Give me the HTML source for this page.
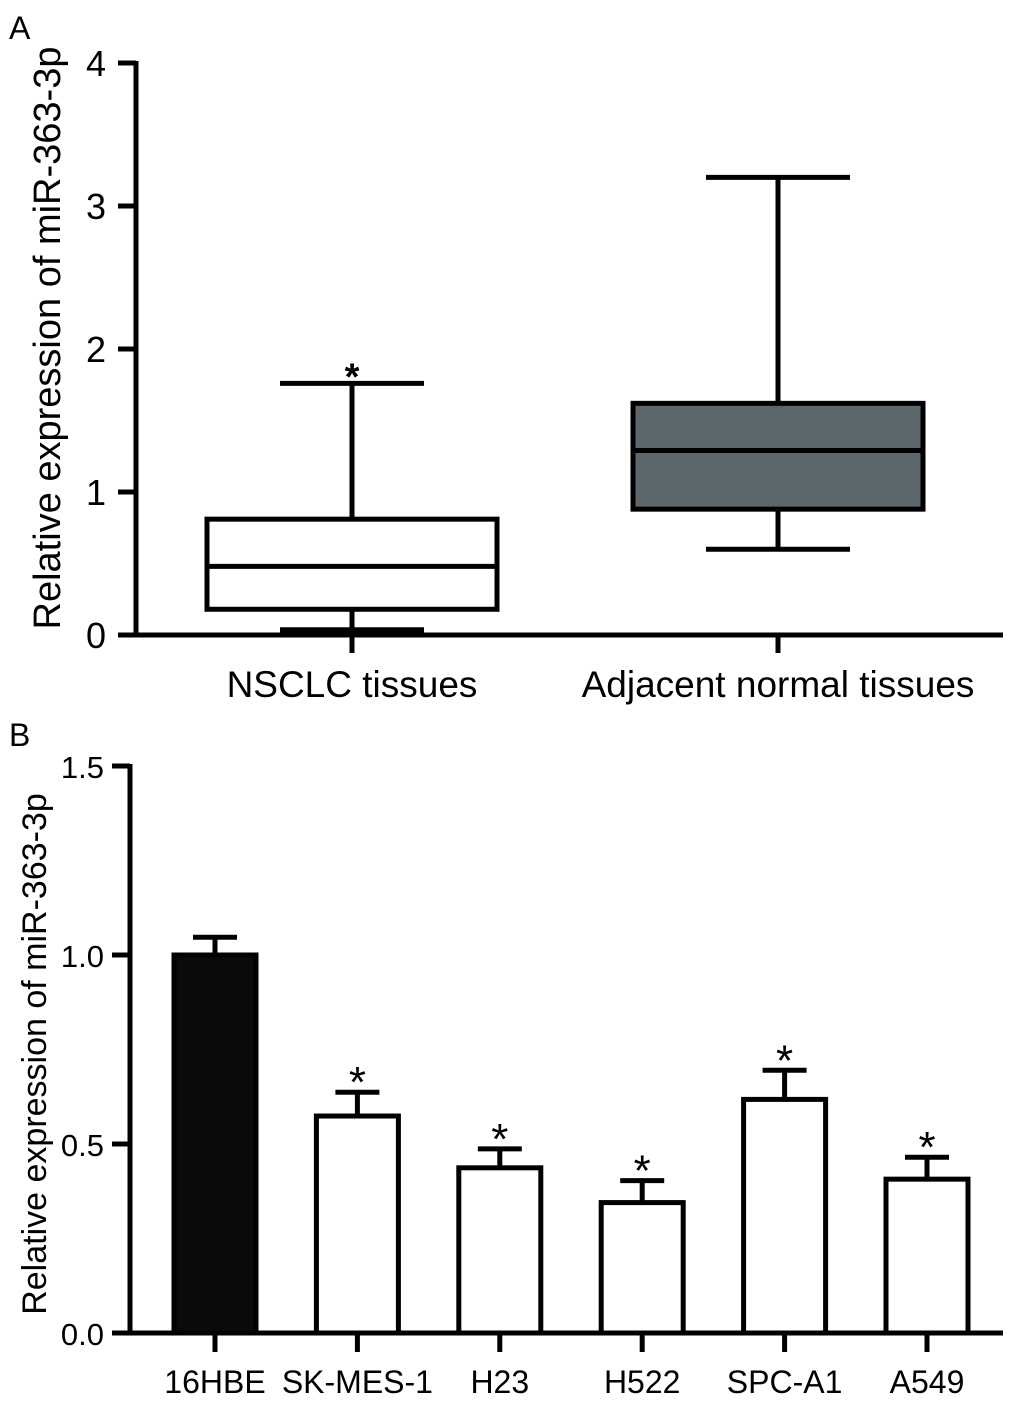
<!DOCTYPE html>
<html><head><meta charset="utf-8"><style>
body{margin:0;background:#fff;}
svg{display:block;font-family:"Liberation Sans",Arial,sans-serif;}
</style></head><body>
<svg id="c" width="1013" height="1404" viewBox="0 0 1013 1404" xmlns="http://www.w3.org/2000/svg"></svg>
<script>
// Panel A data
const catsA = ["NSCLC tissues", "Adjacent normal tissues"];
const minA = [0.03, 0.6];
const q1A = [0.18, 0.88];
const medA = [0.48, 1.29];
const q3A = [0.81, 1.62];
const maxA = [1.76, 3.2];
const ticksA = [0, 1, 2, 3, 4];
// Panel B data
const catsB = ["16HBE", "SK-MES-1", "H23", "H522", "SPC-A1", "A549"];
const valsB = [1.0, 0.574, 0.437, 0.345, 0.618, 0.407];
const errB = [0.047, 0.063, 0.05, 0.058, 0.077, 0.058];
const ticksB = ["0.0", "0.5", "1.0", "1.5"];

const NS = "http://www.w3.org/2000/svg";
const svg = document.getElementById("c");
function mk(tag, attrs, parent) {
  const e = document.createElementNS(NS, tag);
  for (const k in attrs) e.setAttribute(k, attrs[k]);
  (parent || svg).appendChild(e);
  return e;
}
function txt(s, attrs) { const t = mk("text", attrs); t.textContent = s; return t; }

// ---- Panel A ----
const yA = v => 635 - v * 143;
const xA = i => 352 + i * 426;
let t = txt("A", {x: 9, y: 39, "font-size": 32});


let l = mk("line", {x1: 136, y1: 61, x2: 136, y2: 637, stroke: "#000", "stroke-width": 5});


l = mk("line", {x1: 118, y1: 635, x2: 1003, y2: 635, stroke: "#000", "stroke-width": 5});


ticksA.forEach(v => {
  const tk = mk("line", {x1: 118, y1: yA(v), x2: 136, y2: yA(v), stroke: "#000", "stroke-width": 5});
  
  
  const lb = txt(String(v), {x: 106, y: yA(v) + 13, "font-size": 36, "text-anchor": "end"});
  
  
});
t = txt("Relative expression of miR-363-3p", {x: 0, y: 0, "font-size": 38, "text-anchor": "middle", transform: "translate(60,338) rotate(-90)"});


catsA.forEach((c, i) => {
  const cx = xA(i);
  const g = mk("g", {});
  
  
  mk("line", {x1: cx, y1: yA(maxA[i]), x2: cx, y2: yA(minA[i]), stroke: "#000", "stroke-width": 5}, g);
  mk("line", {x1: cx - 72, y1: yA(maxA[i]), x2: cx + 72, y2: yA(maxA[i]), stroke: "#000", "stroke-width": 5}, g);
  mk("line", {x1: cx - 72, y1: yA(minA[i]), x2: cx + 72, y2: yA(minA[i]), stroke: "#000", "stroke-width": i === 0 ? 7 : 5}, g);
  mk("rect", {x: cx - 145, y: yA(q3A[i]), width: 290, height: yA(q1A[i]) - yA(q3A[i]), fill: i === 0 ? "#fff" : "#5c676c", stroke: "#000", "stroke-width": 5}, g);
  mk("line", {x1: cx - 145, y1: yA(medA[i]), x2: cx + 145, y2: yA(medA[i]), stroke: "#000", "stroke-width": 5}, g);
  const tk = mk("line", {x1: cx, y1: 635, x2: cx, y2: 653, stroke: "#000", "stroke-width": 5});
  
  
  const lb = txt(c, {x: cx, y: 697, "font-size": 37, "text-anchor": "middle"});
  
  
});
t = txt("*", {x: xA(0), y: yA(maxA[0]) + 6, "font-size": 38, "font-weight": "bold", "text-anchor": "middle"});



// ---- Panel B ----
const yB = v => 1333 - v * 378;
const xB = i => 215 + i * 142.4;
t = txt("B", {x: 9, y: 746, "font-size": 32});


l = mk("line", {x1: 130, y1: 764, x2: 130, y2: 1335, stroke: "#000", "stroke-width": 5});


l = mk("line", {x1: 112, y1: 1333, x2: 1003, y2: 1333, stroke: "#000", "stroke-width": 5});


ticksB.forEach(s => {
  const v = parseFloat(s);
  const tk = mk("line", {x1: 112, y1: yB(v), x2: 130, y2: yB(v), stroke: "#000", "stroke-width": 5});
  
  
  const lb = txt(s, {x: 104, y: yB(v) + 12, "font-size": 31, "text-anchor": "end"});
  
  
});
t = txt("Relative expression of miR-363-3p", {x: 0, y: 0, "font-size": 34, "text-anchor": "middle", transform: "translate(46,1054) rotate(-90)"});


catsB.forEach((c, i) => {
  const cx = xB(i);
  const top = yB(valsB[i] + errB[i]);
  const eb = mk("g", {});
  
  
  mk("line", {x1: cx, y1: top, x2: cx, y2: yB(valsB[i]), stroke: "#000", "stroke-width": 5}, eb);
  mk("line", {x1: cx - 22, y1: top, x2: cx + 22, y2: top, stroke: "#000", "stroke-width": 5}, eb);
  const b = mk("rect", {x: cx - 41, y: yB(valsB[i]), width: 82, height: 1333 - yB(valsB[i]), fill: i === 0 ? "#0a0a0a" : "#fff", stroke: "#000", "stroke-width": 5});
  
  
  const tk = mk("line", {x1: cx, y1: 1333, x2: cx, y2: 1352, stroke: "#000", "stroke-width": 5});
  
  
  const lb = txt(c, {x: cx, y: 1393, "font-size": 32, "text-anchor": "middle"});
  
  
  if (i > 0) {
    const st = txt("*", {x: cx, y: top + 5, "font-size": 44, "text-anchor": "middle"});
    
    
  }
});
</script>
</body></html>
